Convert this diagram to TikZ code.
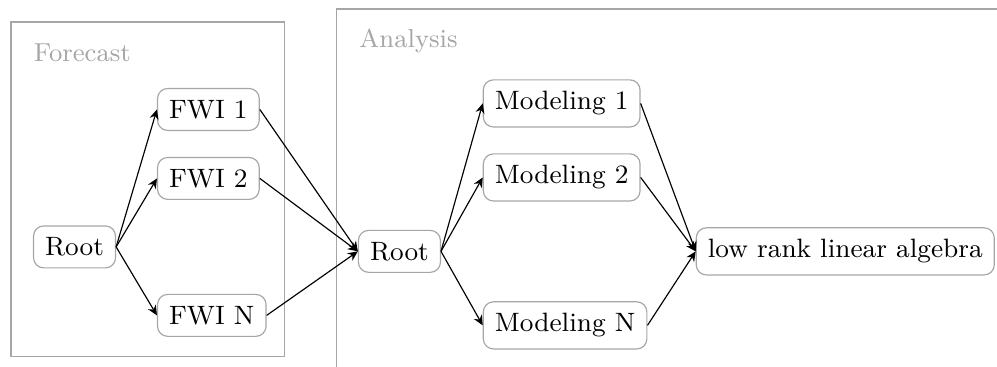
\documentclass[tikz,border=0pt]{standalone}
\usepackage{tikz}
\usetikzlibrary{arrows.meta,positioning}

\begin{document}
\begin{tikzpicture}[
    box/.style={draw=gray!70, rounded corners=3.5pt, fill=white, inner sep=4pt, font=\fontsize{9.15}{11}\selectfont},
    arr/.style={-{Stealth[length=1.2mm, width=1.1mm]}, thin},
    grp/.style={draw=gray!70, thin},
    grplabel/.style={text=gray!70, anchor=base west, inner sep=0pt, font=\fontsize{8.95}{11}\selectfont}
]
    \useasboundingbox (0,0) rectangle (12.07,-4.44);
    \clip (0,0) rectangle (12.07,-4.44);

    % groups
    \draw[grp] (0.133,-0.266) rectangle (3.449,-4.320);
    \draw[grp] (4.078,-4.8) |- (12.5,-0.109);
    \node[grplabel] (forecast) at (0.403,-0.747) {Forecast};
    \node[grplabel] (analysis) at (4.344,-0.581) {Analysis};

    % forecast
    \node[box, anchor=west] (root1) at (0.399,-2.989) {Root};
    \node[box, anchor=west] (fwi1) at (1.900,-1.325) {FWI 1};
    \node[box, anchor=west] (fwi2) at (1.900,-2.160) {FWI 2};
    \node[box, anchor=west] (fwin) at (1.900,-3.818) {FWI N};

    % analysis
    \node[box, anchor=west] (root2) at (4.332,-3.043) {Root};
    \node[box, anchor=west] (mod1) at (5.844,-1.252) {Modeling 1};
    \node[box, anchor=west] (mod2) at (5.844,-2.148) {Modeling 2};
    \node[box, anchor=west] (modn) at (5.844,-3.939) {Modeling N};
    \node[box, anchor=west] (lowrank) at (8.422,-3.043) {low rank linear algebra};

    \foreach \n in {fwi1,fwi2,fwin}{
        \draw[arr] (root1.east) -- (\n.west);
        \draw[arr] (\n.east) -- (root2.west);
    }
    \foreach \n in {mod1,mod2,modn}{
        \draw[arr] (root2.east) -- (\n.west);
        \draw[arr] (\n.east) -- (lowrank.west);
    }
\end{tikzpicture}
\end{document}
